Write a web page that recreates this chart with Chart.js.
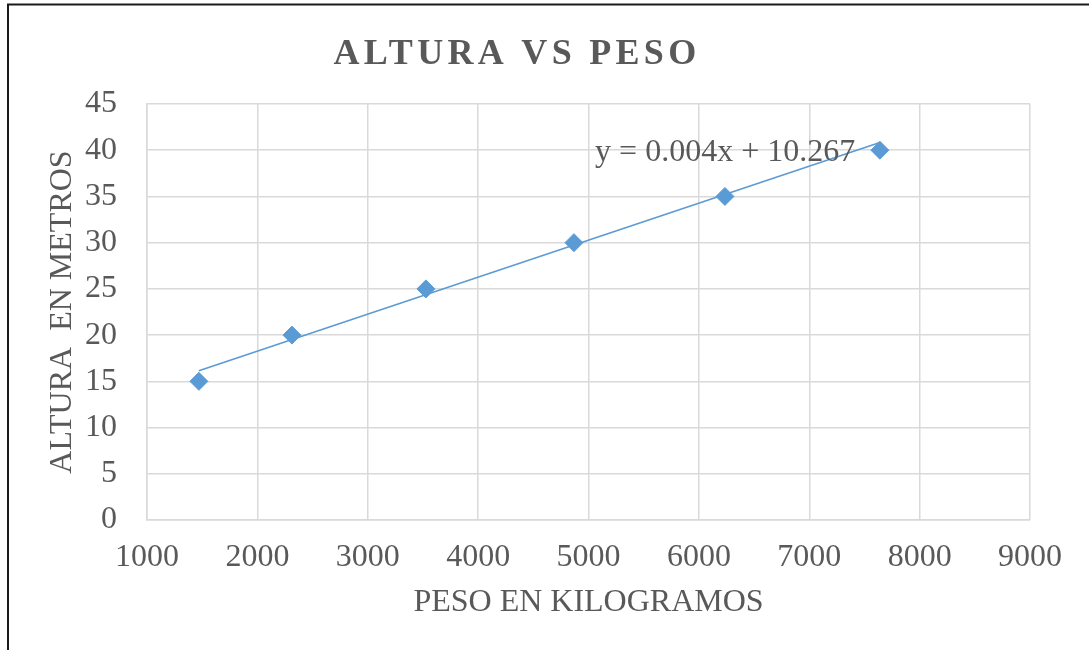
<!DOCTYPE html>
<html>
<head>
<meta charset="utf-8">
<script src="https://cdn.jsdelivr.net/npm/chart.js@4/dist/chart.umd.min.js"></script>
<style>
html,body{margin:0;padding:0;background:#fff;}
#wrap{width:1089px;height:650px;position:relative;}
</style>
</head>
<body>
<div id="wrap"><canvas id="c" width="1089" height="650"></canvas></div>
<script>
const chartTitle = 'ALTURA VS PESO';
const xTitle = 'PESO EN KILOGRAMOS';
const yTitle = 'ALTURA  EN METROS';
const pesoKg = [1470, 2313, 3527, 4868, 6236, 7640];
const alturaM = [15, 20, 25, 30, 35, 40];
const trendSlope = 0.004;
const trendIntercept = 10.267;
const trendLabel = 'y = 0.004x + 10.267';
const xTicks = [1000, 2000, 3000, 4000, 5000, 6000, 7000, 8000, 9000];
const yTicks = [0, 5, 10, 15, 20, 25, 30, 35, 40, 45];

const points = pesoKg.map((x, i) => ({x: x, y: alturaM[i]}));
const trendX = [pesoKg[0], pesoKg[pesoKg.length - 1]];
const trendPts = trendX.map(x => ({x: x, y: trendSlope * x + trendIntercept}));

const FONT = "'Liberation Serif', 'Times New Roman', serif";
const GRAY = '#595959';
const BLUE = '#5B9BD5';

const deco = {
  id: 'deco',
  afterDraw(chart) {
    const ctx = chart.ctx;
    const xs = chart.scales.x;
    ctx.save();
    // outer border
    ctx.strokeStyle = '#1a1a1a';
    ctx.lineWidth = 2;
    ctx.beginPath();
    ctx.moveTo(8, 650);
    ctx.lineTo(8, 4.5);
    ctx.lineTo(1089, 4.5);
    ctx.stroke();
    // title
    ctx.fillStyle = GRAY;
    ctx.font = "bold 36px " + FONT;
    ctx.textAlign = 'center';
    ctx.textBaseline = 'alphabetic';
    if ('letterSpacing' in ctx) ctx.letterSpacing = '4.3px';
    ctx.fillText(chartTitle, 517, 64);
    if ('letterSpacing' in ctx) ctx.letterSpacing = '0px';
    // trendline equation
    ctx.font = "32px " + FONT;
    ctx.textAlign = 'left';
    ctx.fillStyle = GRAY;
    ctx.fillText(trendLabel, xs.getPixelForValue(5060), 161);
    ctx.restore();
  }
};

new Chart(document.getElementById('c'), {
  type: 'scatter',
  data: {
    datasets: [
      {
        label: 'Tendencia',
        data: trendPts,
        showLine: true,
        borderColor: BLUE,
        borderWidth: 1.6,
        pointRadius: 0,
        fill: false,
        order: 2
      },
      {
        label: 'Altura',
        data: points,
        pointStyle: 'rectRot',
        pointRadius: 9,
        pointHoverRadius: 9,
        backgroundColor: BLUE,
        borderColor: BLUE,
        borderWidth: 1,
        showLine: false,
        order: 1
      }
    ]
  },
  options: {
    responsive: false,
    animation: false,
    plugins: {
      legend: { display: false },
      tooltip: { enabled: false },
      title: { display: false }
    },
    scales: {
      x: {
        type: 'linear',
        min: 1000, max: 9000,
        afterBuildTicks(s) { s.ticks = xTicks.map(v => ({value: v})); },
        grid: { color: '#d9d9d9', lineWidth: 1.5, drawTicks: false },
        border: { display: true, color: '#d9d9d9', width: 1.5 },
        ticks: { color: GRAY, font: { family: FONT, size: 32 }, padding: 18, maxRotation: 0, callback: v => String(v) },
        title: { display: true, text: xTitle, color: GRAY, font: { family: FONT, size: 32 }, padding: { top: 0, bottom: 28 } },
        afterFit(s) { s.height = 130; }
      },
      y: {
        type: 'linear',
        min: 0, max: 45,
        afterBuildTicks(s) { s.ticks = yTicks.map(v => ({value: v})); },
        grid: { color: '#d9d9d9', lineWidth: 1.5, drawTicks: false },
        border: { display: true, color: '#d9d9d9', width: 1.5 },
        ticks: { color: GRAY, font: { family: FONT, size: 32 }, padding: 30, callback: v => String(v) },
        title: { display: true, text: yTitle, color: GRAY, font: { family: FONT, size: 32 }, padding: { top: 43, bottom: 0 } },
        afterFit(s) { s.width = 147; }
      }
    }
  },
  plugins: [deco, {
    id: 'pad',
    beforeLayout(chart) { chart.options.layout.padding = { left: 0, right: 59, top: 104, bottom: 0 }; }
  }]
});
</script>
</body>
</html>
